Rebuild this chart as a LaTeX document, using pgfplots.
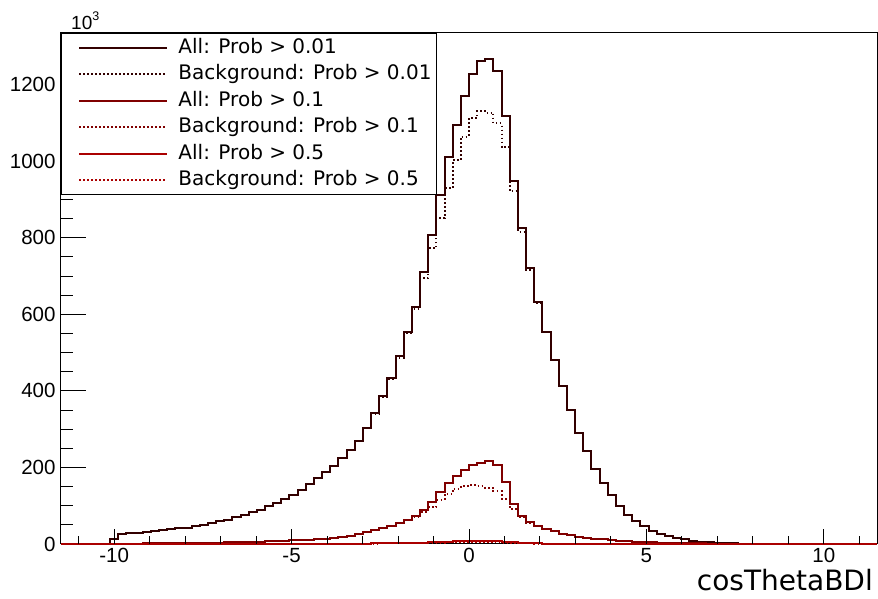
\documentclass[border=0pt]{standalone}
\usepackage{pgfplots}
\pgfplotsset{compat=1.18}
\usepackage{pgfplotstable}
\usepackage{fontspec}
\setmainfont{Liberation Sans}
\newfontfamily\dejavu{DejaVu Sans}
\usetikzlibrary{calc}
\definecolor{histdark}{RGB}{50,0,0}
\definecolor{histmid}{RGB}{128,0,0}
\definecolor{histred}{RGB}{170,0,0}

\pgfplotstableread{
x A B C D E F
-11.50 0 0 0 0 0 0
-11.27 0 0 0 0 0 0
-11.04 0 0 0 0 0 0
-10.81 0 0 0 0 0 0
-10.58 0 0 0 0 0 0
-10.35 0 0 0 0 0 0
-10.12 13 13 0.5 0.5 0 0
-9.89 26.5 26.5 1.1 1.1 0 0
-9.66 28 28 1.2 1.2 0 0
-9.43 30 30 1.3 1.3 0 0
-9.20 32 32 1.4 1.4 0.1 0.1
-8.97 34 34 1.6 1.6 0.1 0.1
-8.74 36 36 1.8 1.8 0.1 0.1
-8.51 38 38 2 2 0.1 0.1
-8.28 41 41 2.2 2.2 0.1 0.1
-8.05 43 43 2.4 2.4 0.1 0.1
-7.82 47 47 2.7 2.7 0.1 0.1
-7.59 50 50 3 3 0.1 0.1
-7.36 54 54 3.3 3.3 0.1 0.1
-7.13 59 59 3.7 3.7 0.1 0.1
-6.90 64 64 4.1 4.1 0.1 0.1
-6.67 70 70 4.6 4.6 0.1 0.1
-6.44 76 76 5.1 5.1 0.1 0.1
-6.21 83 83 5.7 5.7 0.1 0.1
-5.98 90 90 6.3 6.3 0.1 0.1
-5.75 98 98 7 7 0.2 0.2
-5.52 107 107 7.7 7.7 0.2 0.2
-5.29 117 117 8.5 8.5 0.3 0.3
-5.06 128 128 9.5 9.5 0.3 0.3
-4.83 141 141 10.5 10.5 0.4 0.4
-4.60 156 156 11.5 11.5 0.4 0.4
-4.37 172 172 12.5 12.5 0.5 0.5
-4.14 188 188 14 14 0.6 0.5
-3.91 205 205 16 16 0.7 0.6
-3.68 224 224 19 19 0.8 0.7
-3.45 245 245 22 22 0.9 0.8
-3.22 268 268 27 27 1.0 0.9
-2.99 303 302 31 31 1.2 1.0
-2.76 342 340 36 36 1.4 1.2
-2.53 386 383 41 41 1.7 1.4
-2.30 434 430 47 47 2.0 1.6
-2.07 490 486 55 55 2.4 1.9
-1.84 555 551 62 62 2.8 2.2
-1.61 620 615 74 71 3.3 2.6
-1.38 710 694 88 83 3.9 3.0
-1.15 806 773 111 96 4.6 3.4
-0.92 912 851 136 116 5.3 3.8
-0.69 1010 929 160 131 6.0 4.2
-0.46 1094 1003 177 144 6.6 4.5
-0.23 1171 1064 194 151 7.2 4.8
0.00 1229 1112 207 153 7.6 5.0
0.23 1261 1131 212 151 8.0 5.0
0.46 1268 1127 216 147 8.2 4.9
0.69 1236 1099 207 138 7.8 4.6
0.92 1119 1038 161 118 6.0 3.8
1.15 949 921 105 92 4.0 2.8
1.38 825 816 73 71 2.8 2.1
1.61 722 716 57 56 2.1 1.7
1.84 633 630 46 46 1.6 1.3
2.07 555 553 40 40 1.3 1.1
2.30 481 480 33 33 1.0 0.9
2.53 412 412 27 27 0.8 0.7
2.76 351 351 23 23 0.6 0.6
2.99 290 290 19 19 0.5 0.5
3.22 242 242 16 16 0.4 0.4
3.45 196 196 14 14 0.3 0.3
3.68 160 160 12 12 0.3 0.3
3.91 127 127 10 10 0.2 0.2
4.14 99 99 8.5 8.5 0.2 0.2
4.37 77 77 7.3 7.3 0.1 0.1
4.60 60 60 6.2 6.2 0.1 0.1
4.83 46 46 5.2 5.2 0.1 0.1
5.06 35 35 4.4 4.4 0.1 0.1
5.29 27 27 3.7 3.7 0.1 0.1
5.52 21 21 3.1 3.1 0.1 0.1
5.75 16 16 2.6 2.6 0.1 0.1
5.98 12 12 2.2 2.2 0.1 0.1
6.21 8.5 8.5 1.8 1.8 0.1 0.1
6.44 6 6 1.5 1.5 0.1 0.1
6.67 4.2 4.2 1.2 1.2 0.1 0.1
6.90 3 3 1 1 0.1 0.1
7.13 2.2 2.2 0.8 0.8 0 0
7.36 1.6 1.6 0.6 0.6 0 0
7.59 1.2 1.2 0.5 0.5 0 0
7.82 0.9 0.9 0.4 0.4 0 0
8.05 0.7 0.7 0.3 0.3 0 0
8.28 0.5 0.5 0.2 0.2 0 0
8.51 0.4 0.4 0.2 0.2 0 0
8.74 0.3 0.3 0.2 0.2 0 0
8.97 0.25 0.25 0.2 0.2 0 0
9.20 0.2 0.2 0.2 0.2 0 0
9.43 0.15 0.15 0.2 0.2 0 0
9.66 0.1 0.1 0.2 0.2 0 0
9.89 0.1 0.1 0.1 0.1 0 0
10.12 0 0 0 0 0 0
10.35 0 0 0 0 0 0
10.58 0 0 0 0 0 0
10.81 0 0 0 0 0 0
11.04 0 0 0 0 0 0
11.27 0 0 0 0 0 0
11.50 0 0 0 0 0 0
}\histdata

\pgfplotsset{
  frame/.style={
    scale only axis,
    width=816pt, height=511pt,
    xmin=-11.5, xmax=11.5, ymin=0, ymax=1335,
    clip=false,
    tick align=inside,
    tick pos=left,
    tick style={black, line width=1pt},
    ticklabel style={font=\fontsize{20.5}{23}\selectfont},
  },
  hist/.style={const plot, line width=2pt, solid},
  dotted hist/.style={const plot, line width=2pt, dash pattern=on 1.5pt off 2.5pt},
}

\begin{document}
\begin{tikzpicture}
\begin{axis}[
  frame,
  axis line style={line width=1pt, black},
  major tick length=25pt, minor tick length=12.5pt,
  xtick=\empty,
  ytick={0,200,...,1200},
  yticklabels={0,200,400,600,800,1000,1200},
  minor ytick={0,50,...,1300},
  yticklabel style={xshift=-2pt},
  xlabel={cosThetaBDl},
  xlabel style={font=\dejavu\fontsize{28}{32}\selectfont, at={(rel axis cs:1,0)}, anchor=base east, yshift=-47pt, xshift=-4pt, inner sep=0pt},
  legend cell align=left,
  legend style={at={(rel axis cs:0,1)}, anchor=north west, draw=black, line width=1pt, fill=white,
    font=\dejavu\fontsize{20}{24}\selectfont, inner xsep=3pt, inner ysep=3pt, row sep=3.4pt,
    nodes={inner sep=2pt, text height=15pt, text depth=4pt},
    /tikz/every odd column/.append style={column sep=8pt}},
  legend image code/.code={\path (0pt,0pt); \draw[#1] (14pt,0pt) -- (102pt,0pt);},
]
\addplot[hist, color=histdark, forget plot] table[x=x,y=A] {\histdata};
\addplot[dotted hist, color=histdark, forget plot] table[x=x,y=B] {\histdata};
\addplot[hist, color=histmid, forget plot] table[x=x,y=C] {\histdata};
\addplot[dotted hist, color=histmid, forget plot] table[x=x,y=D] {\histdata};
\addplot[hist, color=histred, forget plot] table[x=x,y=E] {\histdata};
\addplot[dotted hist, color=histred, forget plot] table[x=x,y=F] {\histdata};
\addlegendimage{line width=2pt, solid, color=histdark}
\addlegendentry{All: Prob > 0.01}
\addlegendimage{line width=2pt, dash pattern=on 1.5pt off 2.5pt, color=histdark}
\addlegendentry{Background: Prob > 0.01}
\addlegendimage{line width=2pt, solid, color=histmid}
\addlegendentry{All: Prob > 0.1}
\addlegendimage{line width=2pt, dash pattern=on 1.5pt off 2.5pt, color=histmid}
\addlegendentry{Background: Prob > 0.1}
\addlegendimage{line width=2pt, solid, color=histred}
\addlegendentry{All: Prob > 0.5}
\addlegendimage{line width=2pt, dash pattern=on 1.5pt off 2.5pt, color=histred}
\addlegendentry{Background: Prob > 0.5}
\coordinate (SW) at (rel axis cs:0,0);
\coordinate (NE) at (rel axis cs:1,1);
\node[anchor=base west, font=\fontsize{19}{21}\selectfont, inner sep=0pt] at ([xshift=10pt, yshift=3pt]rel axis cs:0,1) {10\raisebox{9pt}{\fontsize{12.5}{13}\selectfont 3}};
\end{axis}
\begin{axis}[
  frame,
  axis line style={draw=none},
  major tick length=15pt, minor tick length=7.5pt,
  ytick=\empty,
  xtick={-10,-5,0,5,10},
  xticklabels={-10,-5,0,5,10},
  minor xtick={-11,-10,...,11},
  xticklabel style={yshift=-1pt},
]
\end{axis}
\pgfresetboundingbox
\path[use as bounding box] ($(SW)+(-61pt,-55pt)$) rectangle ($(NE)+(1pt,33pt)$);
\end{tikzpicture}
\end{document}
